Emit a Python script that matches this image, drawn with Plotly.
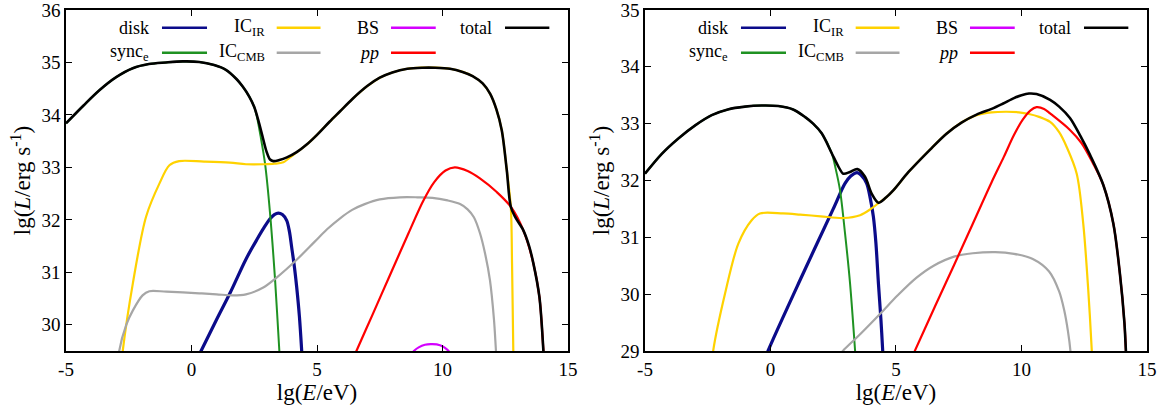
import plotly.graph_objects as go
from plotly.subplots import make_subplots

# ---------------- data: left panel ----------------
L_total_x = [-5, -4.3, -3.67, -3.0, -2.34, -1.7, -1.02, -0.35, 0.31, 0.9, 1.37, 1.8, 2.04, 2.3, 2.5, 2.66,
             2.85, 2.99, 3.13, 3.26, 3.5, 3.8, 4.19, 4.6, 5.0, 5.5, 5.92, 6.4, 7.0, 7.5, 8.0, 8.6, 9.2, 9.7,
             10.3, 10.8, 11.2, 11.6, 11.9, 12.15, 12.36, 12.56, 12.72, 12.9, 13.22, 13.45, 13.62, 13.86, 14.02, 14.08]
L_total_y = [33.84, 34.18, 34.47, 34.72, 34.89, 34.97, 35.0, 35.02, 35.01, 34.95, 34.86, 34.68, 34.54, 34.35, 34.15, 33.9,
             33.55, 33.30, 33.15, 33.12, 33.14, 33.19, 33.29, 33.44, 33.62, 33.87, 34.07, 34.3, 34.55, 34.71, 34.81, 34.88, 34.9, 34.9,
             34.88, 34.82, 34.74, 34.6, 34.4, 34.1, 33.71, 32.95, 32.25, 32.05, 31.8, 31.5, 31.17, 30.53, 29.5, 29.0]

L_sync_x = [-5, -4.3, -3.67, -3.0, -2.34, -1.7, -1.02, -0.35, 0.31, 0.9, 1.37, 1.8, 2.04, 2.3, 2.5, 2.6,
            2.75, 2.93, 3.13, 3.33, 3.5, 3.6]
L_sync_y = [33.84, 34.18, 34.47, 34.72, 34.89, 34.97, 35.0, 35.02, 35.01, 34.95, 34.86, 34.68, 34.54, 34.35, 34.15, 33.98,
            33.6, 33.07, 32.12, 30.85, 29.5, 28.8]

L_icir_x = [-2.8, -2.74, -2.34, -1.81, -1.28, -0.88, -0.49, 0.5, 1.53, 2.17, 2.86, 3.3, 3.66, 4.06, 4.6, 5.0, 5.5,
            5.92, 6.4, 7.0, 7.5, 8.0, 8.6, 9.2, 9.7, 10.3, 10.8, 11.2, 11.6, 11.9, 12.15, 12.36, 12.56, 12.72,
            12.77, 12.82, 12.85]
L_icir_y = [29.2, 29.5, 30.78, 32.06, 32.69, 33.04, 33.12, 33.11, 33.09, 33.06, 33.06, 33.07, 33.1, 33.24, 33.44, 33.62, 33.87,
            34.07, 34.3, 34.55, 34.71, 34.81, 34.88, 34.9, 34.9, 34.88, 34.82, 34.74, 34.6, 34.4, 34.1, 33.71, 32.95, 32.25,
            31.17, 29.5, 28.8]

L_iccmb_x = [-2.95, -2.88, -2.6, -2.34, -1.95, -1.68, -1.0, 0.31, 1.0, 1.64, 2.17, 2.86, 3.39, 4.19, 4.9, 5.4, 5.92,
             6.4, 6.9, 7.5, 8.3, 9.0, 9.6, 10.2, 10.7, 11.0, 11.25, 11.49, 11.7, 11.89, 12.05, 12.13, 12.2]
L_iccmb_y = [29.0, 29.5, 30.0, 30.27, 30.56, 30.64, 30.63, 30.6, 30.58, 30.56, 30.58, 30.71, 30.9, 31.24, 31.58, 31.82, 32.03,
             32.19, 32.3, 32.39, 32.43, 32.43, 32.42, 32.37, 32.3, 32.2, 32.05, 31.75, 31.35, 30.85, 30.1, 29.5, 29.0]

L_disk_x = [0.3, 0.38, 1.0, 1.53, 2.17, 2.6, 2.9, 3.13, 3.3, 3.46, 3.62, 3.79, 3.9, 3.99, 4.1, 4.19, 4.3, 4.39, 4.45]
L_disk_y = [29.42, 29.5, 30.1, 30.6, 31.25, 31.62, 31.86, 32.02, 32.1, 32.13, 32.1, 31.99, 31.78, 31.48, 31.1, 30.72, 30.15, 29.5, 29.0]

L_bs_x = [8.6, 8.86, 9.05, 9.3, 9.6, 9.9, 10.1, 10.24, 10.45]
L_bs_y = [29.3, 29.5, 29.57, 29.62, 29.63, 29.61, 29.56, 29.5, 29.3]

L_pp_x = [6.3, 6.57, 7.2, 7.9, 8.64, 9.23, 9.67, 10.12, 10.49, 11.0, 11.49, 12.16, 12.72, 13.22, 13.62, 13.86, 14.02, 14.08]
L_pp_y = [29.2, 29.5, 30.18, 30.94, 31.74, 32.36, 32.72, 32.94, 33.0, 32.93, 32.79, 32.53, 32.25, 31.8, 31.17, 30.53, 29.5, 29.0]

# ---------------- data: right panel ----------------
R_total_x = [-5, -4.33, -3.67, -3.0, -2.34, -1.7, -1.02, -0.35, 0.31, 0.9, 1.37, 1.7, 2.04, 2.44, 2.7, 2.9, 3.17,
             3.46, 3.76, 4.03, 4.3, 4.6, 4.9, 5.5, 6.35, 7.0, 7.61, 8.21, 8.81, 9.25, 9.7, 10.0, 10.3, 10.6, 11.14,
             11.5, 11.93, 12.35, 12.73, 13.26, 13.66, 13.92, 14.1, 14.16, 14.22]
R_total_y = [32.12, 32.47, 32.74, 32.97, 33.15, 33.25, 33.3, 33.32, 33.31, 33.25, 33.12, 33.0, 32.83, 32.48, 32.25, 32.12, 32.15,
             32.2, 32.07, 31.77, 31.61, 31.7, 31.83, 32.15, 32.54, 32.82, 33.02, 33.16, 33.26, 33.35, 33.45, 33.5, 33.53, 33.52, 33.42,
             33.3, 33.1, 32.78, 32.45, 31.92, 31.24, 30.36, 29.5, 29.0, 28.5]

R_sync_x = [-5, -4.33, -3.67, -3.0, -2.34, -1.7, -1.02, -0.35, 0.31, 0.9, 1.37, 1.7, 2.04, 2.44, 2.6, 2.77, 2.97,
            3.17, 3.37, 3.45]
R_sync_y = [32.12, 32.47, 32.74, 32.97, 33.15, 33.25, 33.3, 33.32, 33.31, 33.25, 33.12, 33.0, 32.83, 32.48, 32.2, 31.83, 31.07,
            30.19, 29.01, 28.5]

R_icir_x = [-2.35, -2.28, -1.81, -1.28, -0.75, -0.42, 0.5, 1.18, 2.0, 2.9, 3.57, 4.0, 4.3, 4.6, 4.9, 5.5, 6.35, 7.0,
            7.61, 8.21, 8.81, 9.4, 9.9, 10.3, 10.7, 11.14, 11.5, 11.8, 12.2, 12.46, 12.66, 12.8, 12.85]
R_icir_y = [28.7, 29.01, 30.01, 30.89, 31.3, 31.42, 31.42, 31.4, 31.37, 31.34, 31.39, 31.5, 31.6, 31.7, 31.83, 32.15, 32.54, 32.82,
            33.02, 33.15, 33.2, 33.21, 33.2, 33.17, 33.12, 33.03, 32.85, 32.59, 32.12, 31.24, 30.07, 29.01, 28.5]

R_iccmb_x = [2.8, 2.9, 3.58, 4.4, 5.07, 5.82, 6.5, 7.31, 8.06, 8.96, 9.7, 10.45, 11.1, 11.5, 11.7, 11.85, 11.95, 12.0]
R_iccmb_y = [28.96, 29.01, 29.3, 29.67, 29.98, 30.29, 30.5, 30.66, 30.72, 30.74, 30.71, 30.62, 30.4, 30.05, 29.72, 29.35, 29.0, 28.6]

R_disk_x = [-0.15, -0.09, 1.18, 2.5, 2.97, 3.2, 3.45, 3.6, 3.83, 3.97, 4.1, 4.2, 4.3, 4.4, 4.47, 4.52]
R_disk_y = [28.93, 29.01, 30.25, 31.5, 31.95, 32.08, 32.14, 32.1, 31.95, 31.7, 31.36, 30.9, 30.19, 29.55, 29.01, 28.6]

R_bs_x = []
R_bs_y = []

R_pp_x = [5.7, 5.76, 6.57, 7.31, 8.06, 8.81, 9.3, 9.7, 10.05, 10.35, 10.6, 10.9, 11.14, 11.93, 12.39, 12.84, 13.26, 13.66,
          13.92, 14.1, 14.16, 14.22]
R_pp_y = [28.95, 29.01, 29.8, 30.51, 31.24, 31.97, 32.42, 32.8, 33.07, 33.23, 33.29, 33.26, 33.18, 32.89, 32.66, 32.31, 31.92, 31.24,
          30.36, 29.5, 29.01, 28.5]

x_ticks = [-5, 0, 5, 10, 15]
L_yrange = [29.5, 36]
R_yrange = [29, 35]
L_yticks = [30, 31, 32, 33, 34, 35, 36]
R_yticks = [29, 30, 31, 32, 33, 34, 35]

names = ["disk", "sync<sub>e</sub>", "IC<sub>IR</sub>", "IC<sub>CMB</sub>", "BS", "<i>pp</i>", "total"]
colors = ["#0b0b8a", "#1f9222", "#ffd200", "#a6a6a6", "#d400ff", "#ff0000", "#000000"]
widths = [3.2, 2.0, 2.2, 2.2, 2.2, 2.2, 2.6]

left = [(L_disk_x, L_disk_y), (L_sync_x, L_sync_y), (L_icir_x, L_icir_y), (L_iccmb_x, L_iccmb_y),
        (L_bs_x, L_bs_y), (L_pp_x, L_pp_y), (L_total_x, L_total_y)]
right = [(R_disk_x, R_disk_y), (R_sync_x, R_sync_y), (R_icir_x, R_icir_y), (R_iccmb_x, R_iccmb_y),
         (R_bs_x, R_bs_y), (R_pp_x, R_pp_y), (R_total_x, R_total_y)]

FONT = '"Liberation Serif", "Times New Roman", "DejaVu Serif", serif'

fig = make_subplots(rows=1, cols=2, horizontal_spacing=0.0712)
for col, series in ((1, left), (2, right)):
    for (xs, ys), nm, c, w in zip(series, names, colors, widths):
        fig.add_trace(go.Scatter(x=xs, y=ys, mode="lines", name=nm, showlegend=False,
                                 line=dict(color=c, width=w, shape="spline", smoothing=0.9)),
                      row=1, col=col)

axis_common = dict(showline=True, linecolor="black", linewidth=1.5, mirror="ticks", ticks="inside",
                   ticklen=6, tickwidth=1.2, tickcolor="black", showgrid=False, zeroline=False,
                   automargin=False, ticklabeloverflow="allow",
                   tickfont=dict(family=FONT, size=19, color="black"))
fig.update_xaxes(range=[-5, 15], tickvals=x_ticks, ticktext=[str(t) for t in x_ticks],
                 title=dict(text="lg(<i>E</i>/eV)", font=dict(family=FONT, size=23, color="black"), standoff=4),
                 **axis_common)
fig.update_yaxes(title=dict(text="lg(<i>L</i>/erg s<sup>-1</sup>)", font=dict(family=FONT, size=23, color="black"),
                            standoff=4), **axis_common)
fig.update_yaxes(range=L_yrange, tickvals=L_yticks, row=1, col=1)
fig.update_yaxes(range=R_yrange, tickvals=R_yticks, row=1, col=2)

# legend (gnuplot style: text right-aligned, sample to the right)
text_right = [0.1693, 0.1693, 0.3998, 0.3998, 0.6269, 0.6269, 0.8526]
line_x0 = [0.1912, 0.1912, 0.4197, 0.4197, 0.6474, 0.6474, 0.8745]
line_x1 = [0.2809, 0.2809, 0.5070, 0.5070, 0.7365, 0.7365, 0.9628]
rows_y = [0.948, 0.875, 0.948, 0.875, 0.948, 0.875, 0.948]
for xa, ya in (("x", "y"), ("x2", "y2")):
    for i, nm in enumerate(names):
        fig.add_annotation(x=text_right[i], y=rows_y[i], xref=f"{xa} domain", yref=f"{ya} domain",
                           text=nm, showarrow=False, xanchor="right", yanchor="middle",
                           font=dict(family=FONT, size=18, color="black"))
        fig.add_shape(type="line", x0=line_x0[i], x1=line_x1[i], y0=rows_y[i], y1=rows_y[i],
                      xref=f"{xa} domain", yref=f"{ya} domain",
                      line=dict(color=colors[i], width=2.5))

fig.update_layout(width=1165, height=409, margin=dict(l=66, r=18, t=10, b=58, autoexpand=False),
                  plot_bgcolor="white", paper_bgcolor="white", showlegend=False,
                  font=dict(family=FONT, color="black"))
fig.write_html("out.html")
